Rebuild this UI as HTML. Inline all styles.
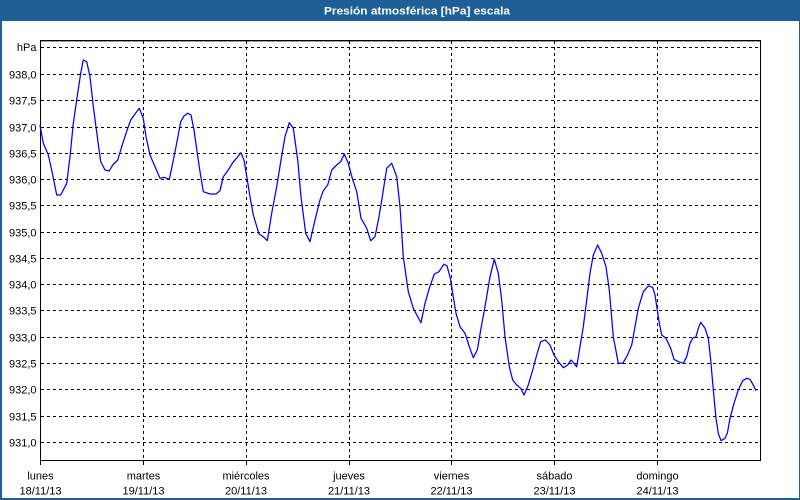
<!DOCTYPE html>
<html>
<head>
<meta charset="utf-8">
<style>
html,body{margin:0;padding:0;background:#fff;}
svg{display:block;}
text{font-family:"Liberation Sans",Arial,sans-serif;}
</style>
</head>
<body>
<svg width="800" height="500" viewBox="0 0 800 500" xmlns="http://www.w3.org/2000/svg">
<rect x="0" y="0" width="800" height="500" fill="#ffffff"/>
<!-- frame -->
<rect x="0" y="0" width="800" height="21" fill="#1d5f96"/>
<rect x="0" y="0" width="2" height="500" fill="#1d5f96"/>
<rect x="799" y="0" width="1" height="500" fill="#1d5f96"/>
<rect x="0" y="498" width="800" height="2" fill="#1d5f96"/>
<text x="324" y="14.5" font-size="11" font-weight="bold" fill="#ffffff" textLength="186" lengthAdjust="spacingAndGlyphs">Presión atmosférica [hPa] escala</text>

<!-- horizontal grid -->
<g stroke="#000" stroke-width="1" stroke-dasharray="3,3" shape-rendering="crispEdges">
<line x1="41" y1="47.5" x2="759" y2="47.5"/>
<line x1="41" y1="74.5" x2="759" y2="74.5"/>
<line x1="41" y1="100.5" x2="759" y2="100.5"/>
<line x1="41" y1="127.5" x2="759" y2="127.5"/>
<line x1="41" y1="153.5" x2="759" y2="153.5"/>
<line x1="41" y1="179.5" x2="759" y2="179.5"/>
<line x1="41" y1="205.5" x2="759" y2="205.5"/>
<line x1="41" y1="232.5" x2="759" y2="232.5"/>
<line x1="41" y1="258.5" x2="759" y2="258.5"/>
<line x1="41" y1="284.5" x2="759" y2="284.5"/>
<line x1="41" y1="310.5" x2="759" y2="310.5"/>
<line x1="41" y1="337.5" x2="759" y2="337.5"/>
<line x1="41" y1="363.5" x2="759" y2="363.5"/>
<line x1="41" y1="389.5" x2="759" y2="389.5"/>
<line x1="41" y1="416.5" x2="759" y2="416.5"/>
<line x1="41" y1="442.5" x2="759" y2="442.5"/>
</g>
<!-- vertical grid -->
<g stroke="#000" stroke-width="1" stroke-dasharray="3,3" shape-rendering="crispEdges">
<line x1="143.5" y1="41" x2="143.5" y2="460"/>
<line x1="246.5" y1="41" x2="246.5" y2="460"/>
<line x1="349.5" y1="41" x2="349.5" y2="460"/>
<line x1="451.5" y1="41" x2="451.5" y2="460"/>
<line x1="554.5" y1="41" x2="554.5" y2="460"/>
<line x1="657.5" y1="41" x2="657.5" y2="460"/>
</g>
<!-- ticks -->
<g stroke="#000" stroke-width="1" shape-rendering="crispEdges">
<line x1="40.5" y1="460" x2="40.5" y2="465"/>
<line x1="143.5" y1="460" x2="143.5" y2="465"/>
<line x1="246.5" y1="460" x2="246.5" y2="465"/>
<line x1="349.5" y1="460" x2="349.5" y2="465"/>
<line x1="451.5" y1="460" x2="451.5" y2="465"/>
<line x1="554.5" y1="460" x2="554.5" y2="465"/>
<line x1="657.5" y1="460" x2="657.5" y2="465"/>
</g>
<!-- axes box -->
<g stroke="#000" stroke-width="1" fill="none" shape-rendering="crispEdges">
<line x1="40" y1="40.5" x2="761" y2="40.5"/>
<line x1="40" y1="41.5" x2="761" y2="41.5" stroke-opacity="0.4"/>
<line x1="40.5" y1="40" x2="40.5" y2="461"/>
<line x1="760.5" y1="40" x2="760.5" y2="461"/>
<line x1="40" y1="460.5" x2="761" y2="460.5"/>
</g>

<!-- series -->
<polyline fill="none" stroke="#0000ff" stroke-width="1.25" stroke-linejoin="round" points="40,125 43.3,143.3 48.3,155 51.7,170 56.7,195 60.7,195 66.7,183.3 70,156.7 73.3,123.3 76.7,100 80.7,73.3 83.3,60 86.7,61.7 90,76.7 93.3,106.7 97.3,136.7 100.7,161.7 105,170 109.3,171 112.7,165 117.7,160 121.7,146.7 126,133.3 130.7,120 135,114 139.3,108.3 143.3,118.3 146,136.7 150,155 155,166.7 160,178.3 164,177.3 169.3,179.3 172.7,163.3 176.7,143.3 180.7,121.7 184,116 187.7,113.3 191,115 194,130 197.3,153.3 200,171.7 203.3,191.7 210,194 216,194 220,190.7 223.3,176.7 228.3,170 232.7,162.7 237.3,157.3 241,152.7 244,160 247,178 250,196.7 253.3,215 259,234 263.3,236.7 267.3,240.7 271.7,213.3 276.7,186.7 281,160 285,136.7 289.3,122.7 293.3,128.3 297.7,160 301,196.7 305.7,233.3 310,241.7 315,220 320,200 323.3,190.7 327.7,185 331.7,170 336.7,165 340.7,161.7 344.3,154 348.3,163.3 352.3,178.3 356.7,191.7 361,218.3 366.7,228.3 370.7,240.7 375,236.7 379,216.7 382.3,196.7 386.7,168.3 391.7,163.3 396.7,176.7 400,206.7 403.3,256.7 408.3,291.7 413.3,308.3 417.3,316 421,322.7 425,303.3 429.3,288.3 434.3,274 439,271.7 443.7,264.3 447,265.7 450.5,279 452.7,293.3 456,313.3 460,326.7 465,333.3 469.3,346.7 473.3,357.7 477.3,350 480.7,330 485,306.7 490,276.7 494.3,259.3 498.3,273.3 501.7,300 505,336.7 509.3,366.7 512.7,380 516.7,385 520.7,388.3 524,395 528.3,385 532.7,370 536.7,355 540.7,341.7 545.3,340 550,345 554,355 558.3,361.7 563.3,367.7 567.7,365 571,360 574,363.3 576.7,366.7 580,346.7 583.3,326.7 586.7,300 590,273.3 593.3,255 597.7,245 601.7,253.3 606,266.7 609.3,290 613.3,336.7 618.3,363.3 622.7,363.3 626.7,356.7 631.7,345 635,326.7 638.3,308.3 643.3,291.7 648.3,286 652.7,287.3 655,295 657.3,310 659.3,323.3 661.7,335 666,338.3 670.7,348.3 674,359.3 678.3,361.7 683.3,363.3 686.7,356.7 690,343.3 692.7,338.3 696,336.7 698.3,328.3 700.7,322.3 705,328.3 708.3,338.3 710.7,360 713.3,390 716,418.3 718.3,433.3 721,440.7 725,438.3 727.3,433.3 730,418.3 734,403.3 738.3,390 742.7,380.7 746.7,378.3 750,379.3 753.3,385 756,390.7"/>

<!-- y labels -->
<g font-size="11" fill="#000" text-anchor="end">
<text x="36.5" y="51">hPa</text>
<text x="36.5" y="78.5">938,0</text>
<text x="36.5" y="104.5">937,5</text>
<text x="36.5" y="131.5">937,0</text>
<text x="36.5" y="157.5">936,5</text>
<text x="36.5" y="183.5">936,0</text>
<text x="36.5" y="209.5">935,5</text>
<text x="36.5" y="236.5">935,0</text>
<text x="36.5" y="262.5">934,5</text>
<text x="36.5" y="288.5">934,0</text>
<text x="36.5" y="314.5">933,5</text>
<text x="36.5" y="341.5">933,0</text>
<text x="36.5" y="367.5">932,5</text>
<text x="36.5" y="393.5">932,0</text>
<text x="36.5" y="420.5">931,5</text>
<text x="36.5" y="446.5">931,0</text>
</g>

<!-- x labels -->
<g font-size="11" fill="#000" text-anchor="middle">
<text x="40.5" y="479.5">lunes</text>
<text x="40.5" y="494.5">18/11/13</text>
<text x="143.5" y="479.5">martes</text>
<text x="143.5" y="494.5">19/11/13</text>
<text x="246" y="479.5">miércoles</text>
<text x="246" y="494.5">20/11/13</text>
<text x="349" y="479.5">jueves</text>
<text x="349" y="494.5">21/11/13</text>
<text x="451.5" y="479.5">viernes</text>
<text x="451.5" y="494.5">22/11/13</text>
<text x="554.5" y="479.5">sábado</text>
<text x="554.5" y="494.5">23/11/13</text>
<text x="657.5" y="479.5">domingo</text>
<text x="657.5" y="494.5">24/11/13</text>
</g>
</svg>
</body>
</html>
